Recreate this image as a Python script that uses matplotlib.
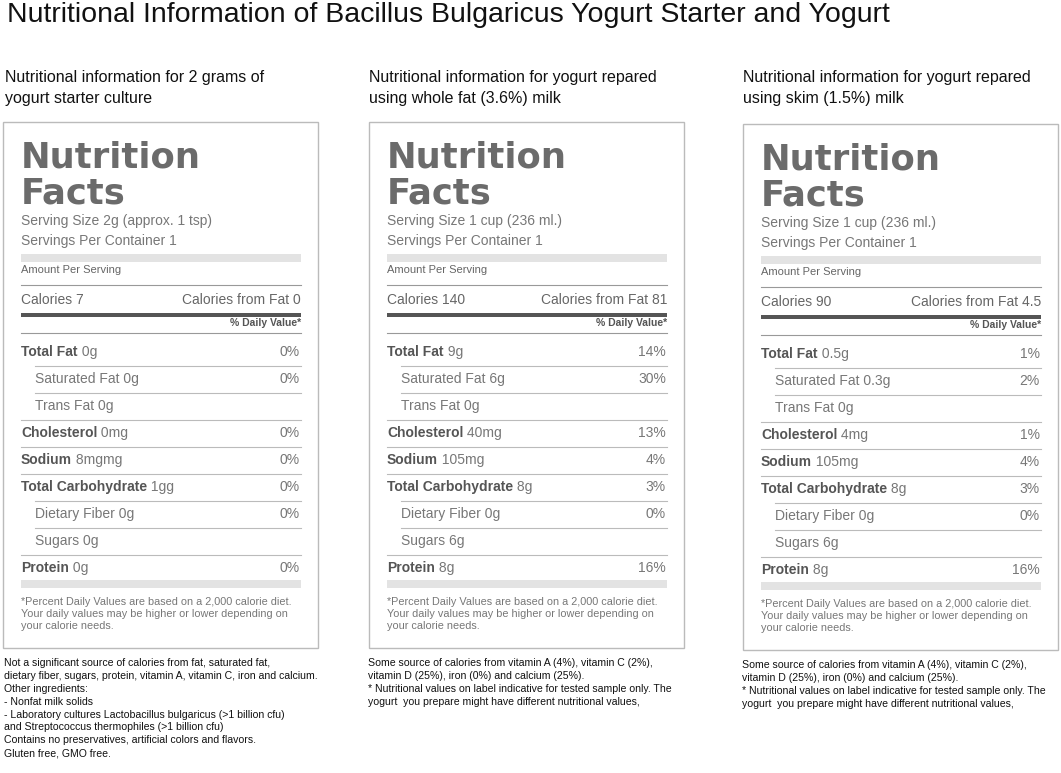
import matplotlib
matplotlib.use("Agg")
import matplotlib.pyplot as plt
from matplotlib.patches import Rectangle

title = "Nutritional Information of Bacillus Bulgaricus Yogurt Starter and Yogurt"
subtitles = ["Nutritional information for 2 grams of\nyogurt starter culture",
             "Nutritional information for yogurt repared\nusing whole fat (3.6%) milk",
             "Nutritional information for yogurt repared\nusing skim (1.5%) milk"]
serving_size = ["Serving Size 2g (approx. 1 tsp)", "Serving Size 1 cup (236 ml.)", "Serving Size 1 cup (236 ml.)"]
calories = ["7", "140", "90"]
calories_fat = ["0", "81", "4.5"]
nutrients = ["Total Fat", "Saturated Fat", "Trans Fat", "Cholesterol", "Sodium",
             "Total Carbohydrate", "Dietary Fiber", "Sugars", "Protein"]
indented = [False, True, True, False, False, False, True, True, False]
amounts = [["0g", "0g", "0g", "0mg", "8mgmg", "1gg", "0g", "0g", "0g"],
           ["9g", "6g", "0g", "40mg", "105mg", "8g", "0g", "6g", "8g"],
           ["0.5g", "0.3g", "0g", "4mg", "105mg", "8g", "0g", "6g", "8g"]]
daily = [["0%", "0%", "", "0%", "0%", "0%", "0%", "", "0%"],
         ["14%", "30%", "", "13%", "4%", "3%", "0%", "", "16%"],
         ["1%", "2%", "", "1%", "4%", "3%", "0%", "", "16%"]]
notes = ["Not a significant source of calories from fat, saturated fat,\ndietary fiber, sugars, protein, vitamin A, vitamin C, iron and calcium.\nOther ingredients:\n- Nonfat milk solids\n- Laboratory cultures Lactobacillus bulgaricus (>1 billion cfu)\nand Streptococcus thermophiles (>1 billion cfu)\nContains no preservatives, artificial colors and flavors.\nGluten free, GMO free.",
         "Some source of calories from vitamin A (4%), vitamin C (2%),\nvitamin D (25%), iron (0%) and calcium (25%).\n* Nutritional values on label indicative for tested sample only. The\nyogurt  you prepare might have different nutritional values,",
         "Some source of calories from vitamin A (4%), vitamin C (2%),\nvitamin D (25%), iron (0%) and calcium (25%).\n* Nutritional values on label indicative for tested sample only. The\nyogurt  you prepare might have different nutritional values,"]
footnote = "*Percent Daily Values are based on a 2,000 calorie diet.\nYour daily values may be higher or lower depending on\nyour calorie needs."

W, H = 1061, 773
fig = plt.figure(figsize=(W/100, H/100), dpi=100)
ax = fig.add_axes([0, 0, 1, 1])
ax.set_xlim(0, W); ax.set_ylim(H, 0); ax.axis("off")
plt.rcParams['font.family'] = ['Liberation Sans', 'DejaVu Sans']

ax.text(7, 15, title, fontsize=20.5, va="center", ha="left", color="#111")

panels = [(3, 122), (369, 122), (743, 124)]
sub_x = [5, 369, 743]
for i, (x0, y0) in enumerate(panels):
    dy = y0 - 122
    ax.text(sub_x[i], 88, subtitles[i], fontsize=11.5, va="center", ha="left", color="#111", linespacing=1.45)
    ax.add_patch(Rectangle((x0, y0), 315, 526, fill=False, ec="#bbbbbb", lw=1))
    L, R = x0 + 18, x0 + 298
    gray = "#6b6b6b"
    ax.text(L, 157 + dy, "Nutrition", fontsize=25.5, fontweight="bold", color=gray, va="center", family="DejaVu Sans")
    ax.text(L, 193 + dy, "Facts", fontsize=25.5, fontweight="bold", color=gray, va="center", family="DejaVu Sans")
    ax.text(L, 221 + dy, serving_size[i], fontsize=10, color="#777", va="center")
    ax.text(L, 241 + dy, "Servings Per Container 1", fontsize=10, color="#777", va="center")
    ax.add_patch(Rectangle((L, 254 + dy), R - L, 8, color="#e3e3e3", lw=0))
    ax.text(L, 270 + dy, "Amount Per Serving", fontsize=8, color="#666", va="center")
    ax.plot([L, R], [285 + dy] * 2, color="#999", lw=0.8)
    ax.text(L, 300 + dy, "Calories " + calories[i], fontsize=10, color="#666", va="center")
    ax.text(R, 300 + dy, "Calories from Fat " + calories_fat[i], fontsize=10, color="#666", va="center", ha="right")
    ax.add_patch(Rectangle((L, 313 + dy), R - L, 4, color="#555", lw=0))
    ax.text(R, 323 + dy, "% Daily Value*", fontsize=7.5, color="#555", va="center", ha="right", fontweight="bold")
    ax.plot([L, R], [333 + dy] * 2, color="#999", lw=0.8)
    for j, n in enumerate(nutrients):
        y = 352 + 27 * j + dy
        xs = L + (14 if indented[j] else 0)
        if indented[j]:
            ax.text(xs, y, n + " " + amounts[i][j], fontsize=10, color="#777", va="center")
        else:
            t = ax.text(xs, y, n, fontsize=10, color="#555", va="center", fontweight="bold")
            ax.annotate(" " + amounts[i][j], xycoords=t, xy=(1, 0.5), va="center", fontsize=10, color="#777")
        ax.text(R - 1, y, daily[i][j], fontsize=10, color="#777", va="center", ha="right")
        if j < len(nutrients) - 1:
            lx = L + 14 if indented[j + 1] else L
            ax.plot([lx, R], [y + 13.5] * 2, color="#bbb", lw=0.8)
    ax.add_patch(Rectangle((L, 580 + dy), R - L, 8, color="#e3e3e3", lw=0))
    ax.text(L, 614 + dy, footnote, fontsize=7.8, color="#777", va="center", linespacing=1.2)
    ax.text(sub_x[i] - 1, 658 + dy, notes[i], fontsize=7.6, color="#111", va="top", linespacing=1.36)

fig.savefig("out.png", dpi=100, facecolor="white")
